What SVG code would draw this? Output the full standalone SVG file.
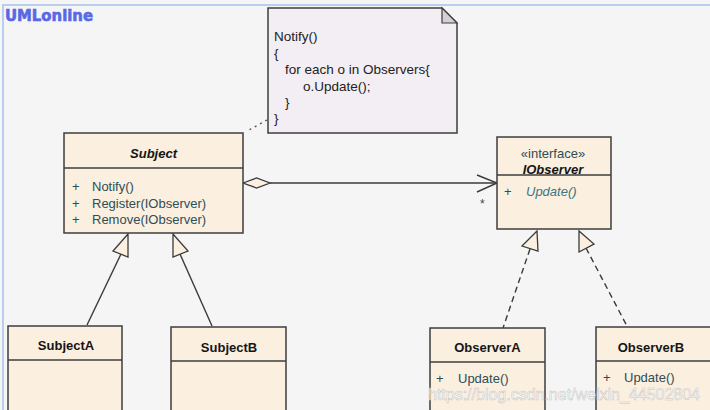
<svg xmlns="http://www.w3.org/2000/svg" width="710" height="410" viewBox="0 0 710 410">
<defs>
<style>
.bg{fill:#f5f5f5}
.frame{stroke:#b9cdf0;stroke-width:2;fill:none}
.cls{fill:#fbefdf;stroke:#3e3e3e;stroke-width:1.5}
.sep{stroke:#3e3e3e;stroke-width:1.5}
.name{font-family:"Liberation Sans",Arial,sans-serif;font-size:13px;font-weight:bold;fill:#151515;text-anchor:middle}
.abs{font-style:italic}
.op{font-family:"Liberation Sans",Arial,sans-serif;font-size:13px;fill:#2e4d55}
.opi{font-family:"Liberation Sans",Arial,sans-serif;font-size:13px;fill:#3d7680;font-style:italic}
.note{fill:#f3eef3;stroke:#3e3e3e;stroke-width:1.5}
.ntxt{font-family:"Liberation Sans",Arial,sans-serif;font-size:13.5px;fill:#222}
.line{stroke:#3a3a3a;stroke-width:1.4;fill:none}
.dash{stroke:#3a3a3a;stroke-width:1.4;fill:none;stroke-dasharray:6 4}
.dot{stroke:#555;stroke-width:1.4;fill:none;stroke-dasharray:2 4}
.tri{fill:#fbefdf;stroke:#3a3a3a;stroke-width:1.3}
</style>
</defs>
<rect class="bg" x="0" y="0" width="710" height="410"/>
<path class="frame" d="M3 410 V5 H710"/>
<text x="5" y="21" font-family="DejaVu Sans,sans-serif" font-weight="bold" font-size="15" fill="#5868e6" stroke="#5868e6" stroke-width="0.6" textLength="88" lengthAdjust="spacingAndGlyphs">UMLonline</text>

<g id="connectors">
<path class="dot" d="M267 120 L249 130"/>
<path class="line" d="M270 183 H497"/>
<path class="tri" d="M243 183 L256.5 178 L270 183 L256.5 188 Z"/>
<path class="line" d="M477 175 L497 183 L477 192"/>
<text x="480" y="208" font-family="Liberation Sans,Arial,sans-serif" font-size="12" fill="#2e4d55">*</text>
<path class="line" d="M121 254 L87 325"/>
<path class="tri" d="M128 234 L113 251 L128 257 Z"/>
<path class="line" d="M180 254 L212 326"/>
<path class="tri" d="M173 234 L173 257 L188 251 Z"/>
<path class="dash" d="M530 249 L503 328"/>
<path class="tri" d="M537 231 L522 246 L538 251 Z"/>
<path class="dash" d="M586 248 L628 328"/>
<path class="tri" d="M579 231 L579 252 L594 244 Z"/>
</g>

<g id="note">
<path class="note" d="M268 8 H442 L457 23 V133 H268 Z"/>
<path d="M442 8 V23 H457 Z" fill="#d2d2d2" stroke="#3e3e3e" stroke-width="1.2"/>
<text class="ntxt" x="274" y="41">Notify()</text>
<text class="ntxt" x="274" y="57.5">{</text>
<text class="ntxt" x="285" y="74">for each o in Observers{</text>
<text class="ntxt" x="303" y="90.5">o.Update();</text>
<text class="ntxt" x="285" y="107">}</text>
<text class="ntxt" x="274" y="123">}</text>
</g>

<g id="Subject">
<rect class="cls" x="64" y="133" width="179" height="100"/>
<line class="sep" x1="64" y1="168" x2="243" y2="168"/>
<text class="name abs" x="153.5" y="158">Subject</text>
<text class="op" x="72" y="191">+</text><text class="op" x="92" y="191">Notify()</text>
<text class="op" x="72" y="208">+</text><text class="op" x="92" y="208">Register(IObserver)</text>
<text class="op" x="72" y="224">+</text><text class="op" x="92" y="224">Remove(IObserver)</text>
</g>

<g id="IObserver">
<rect class="cls" x="497" y="137" width="114" height="92"/>
<line class="sep" x1="497" y1="175" x2="611" y2="175"/>
<text class="op" x="553" y="158" text-anchor="middle" font-size="13.5" fill="#3a2a5a">«interface»</text>
<text class="name abs" x="553" y="174" font-size="13.5">IObserver</text>
<text class="op" x="504" y="196">+</text><text class="opi" x="526" y="196">Update()</text>
</g>

<g id="SubjectA">
<rect class="cls" x="8" y="326" width="114" height="95"/>
<line class="sep" x1="8" y1="360" x2="122" y2="360"/>
<text class="name" x="66" y="350">SubjectA</text>
</g>

<g id="SubjectB">
<rect class="cls" x="171" y="327" width="115" height="95"/>
<line class="sep" x1="171" y1="361" x2="286" y2="361"/>
<text class="name" x="229" y="352">SubjectB</text>
</g>

<g id="ObserverA">
<rect class="cls" x="430" y="328" width="115" height="95"/>
<line class="sep" x1="430" y1="362" x2="545" y2="362"/>
<text class="name" x="487.5" y="352">ObserverA</text>
<text class="op" x="436" y="383">+</text><text class="op" x="458" y="383">Update()</text>
</g>

<g id="ObserverB">
<rect class="cls" x="596" y="327" width="125" height="95"/>
<line class="sep" x1="596" y1="361" x2="710" y2="361"/>
<text class="name" x="651" y="352">ObserverB</text>
<text class="op" x="603" y="382">+</text><text class="op" x="624" y="382">Update()</text>
</g>

<text x="428" y="400" font-family="Liberation Sans,Arial,sans-serif" font-size="16" fill="#ffffff" fill-opacity="0.85" stroke="#c4c4c4" stroke-width="0.5" textLength="272" lengthAdjust="spacingAndGlyphs">https://blog.csdn.net/weixin_44502804</text>
</svg>
